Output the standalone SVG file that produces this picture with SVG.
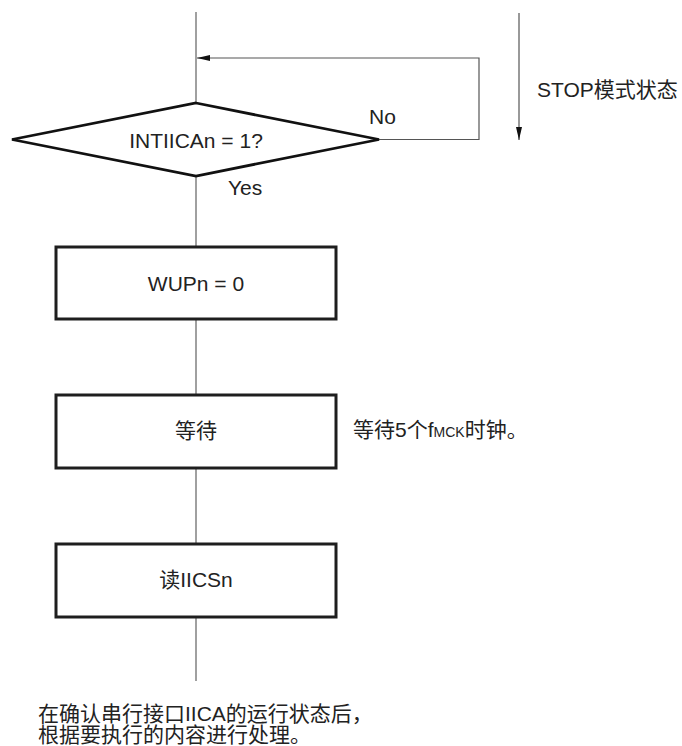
<svg xmlns="http://www.w3.org/2000/svg" width="682" height="746" viewBox="0 0 682 746">
<style>
  .t { font-family: "Liberation Sans", "Noto Sans CJK SC", sans-serif; fill: #222; }
  .lat { font-size: 21px; }
  .cjk { font-size: 21px; }
  .box { fill: #fff; stroke: #1e1e1e; stroke-width: 3; }
  .dia { fill: #fff; stroke: #111; stroke-width: 2.8; stroke-linejoin: miter; }
  .conn { fill: none; stroke: #808080; stroke-width: 1.5; }
  .loop { fill: none; stroke: #555; stroke-width: 1.2; }
</style>
<defs>
  <marker id="ah" markerWidth="14" markerHeight="8" refX="13" refY="4" orient="auto" markerUnits="userSpaceOnUse">
    <path d="M0,1 L13,4 L0,7 Z" fill="#111"/>
  </marker>
</defs>
<g id="connectors">
  <line class="conn" x1="196" y1="12" x2="196" y2="103"/>
  <polyline class="loop" points="379,139.5 479,139.5 479,58 197,58" marker-end="url(#ah)"/>
  <line class="conn" x1="196" y1="176" x2="196" y2="247"/>
  <line class="conn" x1="196" y1="319" x2="196" y2="395"/>
  <line class="conn" x1="196" y1="468" x2="196" y2="544"/>
  <line class="conn" x1="196" y1="617" x2="196" y2="681"/>
  <line class="loop" x1="519" y1="13" x2="519" y2="140" marker-end="url(#ah)"/>
  <text class="t lat" x="369" y="124">No</text>
  <text class="t lat" x="228" y="195">Yes</text>
</g>
<g id="decision">
  <polygon class="dia" points="196,103 379,139.5 196,176 12,139.5"/>
  <text class="t lat" x="196" y="148" text-anchor="middle">INTIICAn = 1?</text>
</g>
<g id="stop-label">
  <text class="t lat" x="537" y="97">STOP<tspan class="cjk">模式状态</tspan></text>
</g>
<g id="wup">
  <rect class="box" x="56" y="247" width="280" height="72"/>
  <text class="t lat" x="196" y="291" text-anchor="middle">WUPn = 0</text>
</g>
<g id="wait">
  <rect class="box" x="56" y="395" width="280" height="73"/>
  <text class="t cjk" x="196" y="438" text-anchor="middle">等待</text>
</g>
<g id="wait-note">
  <text class="t cjk" x="353" y="437">等待5个f<tspan font-size="14">MCK</tspan>时钟。</text>
</g>
<g id="read">
  <rect class="box" x="56" y="544" width="280" height="73"/>
  <text class="t cjk" x="196" y="587" text-anchor="middle">读<tspan class="lat">IICSn</tspan></text>
</g>
<g id="note">
  <text class="t cjk" x="38" y="721">在确认串行接口IICA的运行状态后，</text>
  <text class="t cjk" x="38" y="742">根据要执行的内容进行处理。</text>
</g>
</svg>
